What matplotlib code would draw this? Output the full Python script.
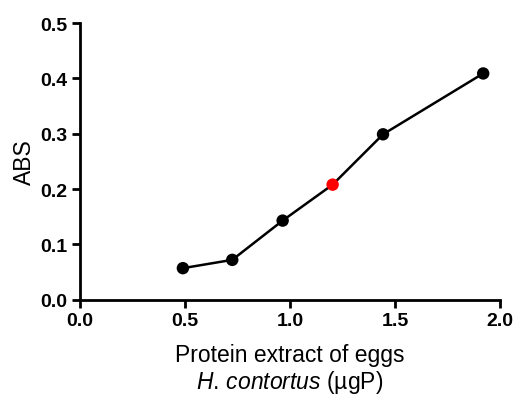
import matplotlib
matplotlib.use("Agg")
import matplotlib.pyplot as plt

plt.rcParams['font.family'] = ['Liberation Sans', 'DejaVu Sans']
plt.rcParams['mathtext.fontset'] = 'custom'
plt.rcParams['mathtext.it'] = 'Liberation Sans:italic'
plt.rcParams['mathtext.rm'] = 'Liberation Sans'

x_vals = [0.49, 0.725, 0.965, 1.203, 1.443, 1.92]
y_vals = [0.057, 0.072, 0.143, 0.208, 0.299, 0.409]
point_colors = ['black', 'black', 'black', 'red', 'black', 'black']
x_ticks = [0.0, 0.5, 1.0, 1.5, 2.0]
y_ticks = [0.0, 0.1, 0.2, 0.3, 0.4, 0.5]

fig = plt.figure(figsize=(5.16, 4.02), dpi=100)
ax = fig.add_axes([0.155, 0.252, 0.814, 0.688])
ax.plot(x_vals, y_vals, color='black', lw=1.8, zorder=2)
ax.scatter(x_vals, y_vals, c=point_colors, s=80, zorder=3, linewidths=0)
ax.set_xlim(0, 2.0)
ax.set_ylim(0, 0.5)
ax.set_xticks(x_ticks)
ax.set_yticks(y_ticks)
ax.set_xticklabels([f"{v:.1f}" for v in x_ticks], fontsize=14, fontweight='bold')
ax.set_yticklabels([f"{v:.1f}" for v in y_ticks], fontsize=14, fontweight='bold')
for s in ['top', 'right']:
    ax.spines[s].set_visible(False)
for s in ['left', 'bottom']:
    ax.spines[s].set_linewidth(2)
ax.tick_params(direction='out', length=6, width=2, pad=3)
ax.set_ylabel('ABS', fontsize=16.5)
ax.yaxis.set_label_coords(-0.105, 0.5)
ax.set_xlabel('Protein extract of eggs\n$H.\\,contortus$ (µgP)', fontsize=16.5, labelpad=10, linespacing=1.1)
fig.savefig('out.png', dpi=100)
